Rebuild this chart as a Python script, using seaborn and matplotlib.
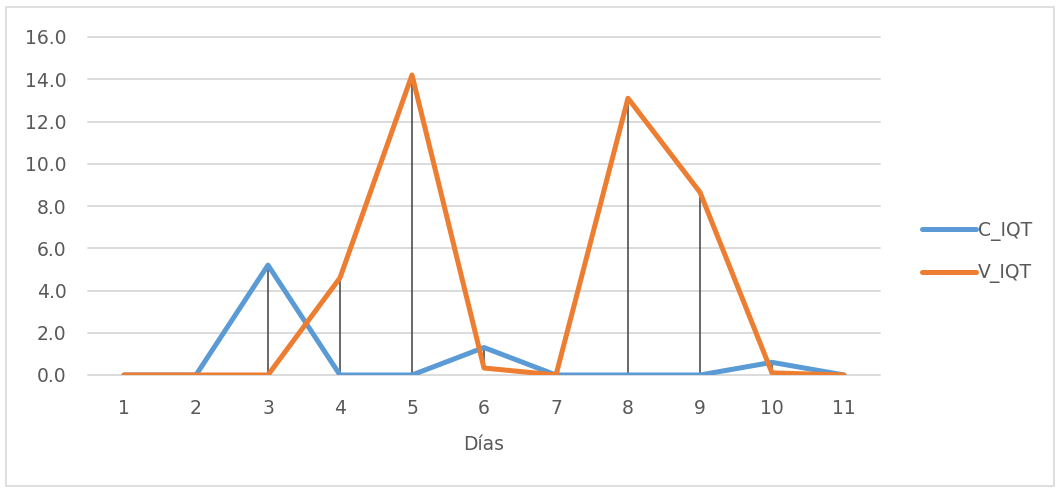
import matplotlib
matplotlib.use("Agg")
import matplotlib.pyplot as plt
import matplotlib.patches as mpatches
import seaborn as sns
import pandas as pd
import numpy as np

dias = [1, 2, 3, 4, 5, 6, 7, 8, 9, 10, 11]
c_iqt = [0.0, 0.0, 5.2, 0.0, 0.0, 1.3, 0.0, 0.0, 0.0, 0.6, 0.0]
v_iqt = [0.0, 0.0, 0.0, 4.6, 14.2, 0.33, 0.0, 13.1, 8.65, 0.1, 0.0]
y_ticks = [0, 2, 4, 6, 8, 10, 12, 14, 16]

df = pd.DataFrame({
    'Días': dias * 2,
    'valor': c_iqt + v_iqt,
    'serie': ['C_IQT'] * len(dias) + ['V_IQT'] * len(dias),
})

sns.set_style('white')
plt.rcParams['font.family'] = ['DejaVu Sans']
grey_txt = '#595959'
fs = 13.5

fig = plt.figure(figsize=(10.57, 4.88), dpi=100)
ax = fig.add_axes([88/1057, 113/488, (880-88)/1057, (375-37)/488])

# outer chart border like excel
fig.patches.append(mpatches.Rectangle((6/1057, 2/488), 1048/1057, 479/488, transform=fig.transFigure,
                                      fill=False, edgecolor='#d9d9d9', linewidth=1.2))

# high-low lines
ax.vlines(dias, np.minimum(c_iqt, v_iqt), np.maximum(c_iqt, v_iqt), colors='#404040', linewidth=1.1, zorder=2)

sns.lineplot(data=df, x='Días', y='valor', hue='serie', palette=['#5b9bd5', '#ed7d31'],
             linewidth=3.6, ax=ax, legend=False, zorder=3, solid_capstyle='round', solid_joinstyle='round')

ax.set_xlim(0.5, 11.5)
ax.set_ylim(0, 16)
ax.set_xticks(dias)
ax.set_yticks(y_ticks)
ax.set_yticklabels(['%.1f' % v for v in y_ticks])
ax.tick_params(axis='both', length=0, labelsize=fs, labelcolor=grey_txt)
ax.tick_params(axis='y', pad=15.5)
ax.tick_params(axis='x', pad=17.5)
ax.grid(axis='y', color='#d9d9d9', linewidth=1.3)
for gl in ax.get_ygridlines():
    gl.set_clip_on(False)
ax.set_axisbelow(True)
for s in ax.spines.values():
    s.set_visible(False)
ax.set_ylabel('')
ax.set_xlabel('Días', fontsize=fs, color=grey_txt, labelpad=12)

h1 = plt.Line2D([], [], color='#5b9bd5', linewidth=3.6, solid_capstyle='round')
h2 = plt.Line2D([], [], color='#ed7d31', linewidth=3.6, solid_capstyle='round')
leg = fig.legend(handles=[h1, h2], labels=['C_IQT', 'V_IQT'], loc='center left',
                 bbox_to_anchor=(905/1057, 236/488), frameon=False, fontsize=fs,
                 handlelength=2.9, handletextpad=0.1, labelspacing=1.2)
for t in leg.get_texts():
    t.set_color(grey_txt)

fig.savefig('out.png', dpi=100)
